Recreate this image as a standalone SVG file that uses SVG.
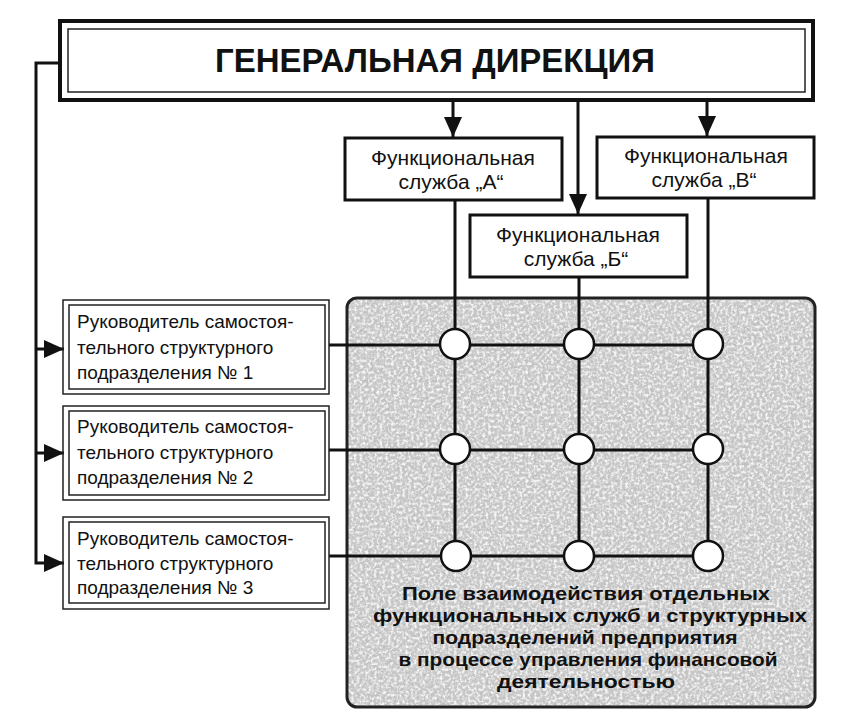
<svg xmlns="http://www.w3.org/2000/svg" width="844" height="716" viewBox="0 0 844 716">
<style>
  .ln { stroke:#111; stroke-width:3; fill:none; }
  .thin { stroke:#222; stroke-width:1.5; fill:none; }
  .box { fill:#fff; stroke:#111; stroke-width:3; }
  .svc { font-family:"Liberation Sans", Arial, sans-serif; font-size:21px; fill:#111; text-anchor:middle; }
  .lead { font-family:"Liberation Sans", Arial, sans-serif; font-size:19px; fill:#111; }
  .field { font-family:"Liberation Sans", Arial, sans-serif; font-size:19px; font-weight:bold; fill:#111; text-anchor:middle; }
  .node { fill:#fff; stroke:#111; stroke-width:2.5; }
</style>
<defs>
  <marker id="ah" viewBox="0 0 20 18" refX="20" refY="9" markerWidth="20" markerHeight="18" markerUnits="userSpaceOnUse" orient="auto">
    <path d="M0,0 L20,9 L0,18 Z" fill="#111"/>
  </marker>
  <filter id="tex" x="0" y="0" width="100%" height="100%">
    <feTurbulence type="fractalNoise" baseFrequency="0.35" numOctaves="2" seed="7" result="n"/>
    <feColorMatrix in="n" type="matrix" values="0 0 0 0 1  0 0 0 0 1  0 0 0 0 1  0 0 0 -3 1.75" result="w"/>
    <feComposite in="w" in2="SourceGraphic" operator="in"/>
  </filter>
  <filter id="tex2" x="0" y="0" width="100%" height="100%">
    <feTurbulence type="fractalNoise" baseFrequency="0.3" numOctaves="2" seed="19" result="n"/>
    <feColorMatrix in="n" type="matrix" values="0 0 0 0 0.45  0 0 0 0 0.45  0 0 0 0 0.45  0 0 0 -3 1.6" result="d"/>
    <feComposite in="d" in2="SourceGraphic" operator="in"/>
  </filter>
</defs>
<rect width="844" height="716" fill="#fff"/>

<g id="field">
  <rect x="347" y="298" width="468" height="409" rx="10" fill="#c8c8c8"/>
  <rect x="347" y="298" width="468" height="409" rx="10" fill="#000" filter="url(#tex2)" opacity="0.55"/>
  <rect x="347" y="298" width="468" height="409" rx="10" fill="#000" filter="url(#tex)" opacity="0.85"/>
  <rect x="347" y="298" width="468" height="409" rx="10" fill="none" stroke="#222" stroke-width="3"/>
  <text class="field" x="586" y="600" textLength="368" lengthAdjust="spacingAndGlyphs">Поле взаимодействия отдельных</text>
  <text class="field" x="590" y="622" textLength="434" lengthAdjust="spacingAndGlyphs">функциональных служб и структурных</text>
  <text class="field" x="585" y="644" textLength="305" lengthAdjust="spacingAndGlyphs">подразделений предприятия</text>
  <text class="field" x="588" y="666" textLength="379" lengthAdjust="spacingAndGlyphs">в процессе управления финансовой</text>
  <text class="field" x="586" y="688" textLength="178" lengthAdjust="spacingAndGlyphs">деятельностью</text>
</g>

<g id="connectors">
  <line class="ln" x1="453" y1="100" x2="453" y2="137" marker-end="url(#ah)"/>
  <line class="ln" x1="578" y1="100" x2="578" y2="214" marker-end="url(#ah)"/>
  <line class="ln" x1="707" y1="100" x2="707" y2="136" marker-end="url(#ah)"/>
  <polyline class="ln" points="60,63 36,63 36,563 64,563" marker-end="url(#ah)"/>
  <line class="ln" x1="36" y1="349" x2="64" y2="349" marker-end="url(#ah)"/>
  <line class="ln" x1="36" y1="453" x2="64" y2="453" marker-end="url(#ah)"/>
  <line class="ln" x1="455" y1="200" x2="455" y2="556"/>
  <line class="ln" x1="579" y1="277" x2="579" y2="556"/>
  <line class="ln" x1="708" y1="198" x2="708" y2="556"/>
  <line class="ln" x1="329" y1="345" x2="708" y2="345"/>
  <line class="ln" x1="329" y1="450" x2="708" y2="450"/>
  <line class="ln" x1="329" y1="556" x2="708" y2="556"/>
</g>

<g id="nodes-grid">
  <circle class="node" cx="455" cy="344" r="15"/>
  <circle class="node" cx="579" cy="344" r="15"/>
  <circle class="node" cx="708" cy="344" r="15"/>
  <circle class="node" cx="455" cy="449" r="15"/>
  <circle class="node" cx="579" cy="449" r="15"/>
  <circle class="node" cx="708" cy="449" r="15"/>
  <circle class="node" cx="456" cy="556" r="15"/>
  <circle class="node" cx="579" cy="556" r="15"/>
  <circle class="node" cx="708" cy="556" r="15"/>
</g>

<g id="general">
  <rect x="60" y="21" width="753" height="79" fill="#fff" stroke="#111" stroke-width="4"/>
  <rect x="68" y="29" width="737" height="63" fill="none" stroke="#222" stroke-width="1.5"/>
  <text x="435" y="72" font-family="'Liberation Sans', Arial, sans-serif" font-size="33" font-weight="bold" fill="#111" text-anchor="middle" textLength="440" lengthAdjust="spacingAndGlyphs">ГЕНЕРАЛЬНАЯ ДИРЕКЦИЯ</text>
</g>

<g id="service-a">
  <rect class="box" x="345" y="138" width="217" height="62"/>
  <text class="svc" x="453" y="165">Функциональная</text>
  <text class="svc" x="451" y="189">служба „А“</text>
</g>
<g id="service-b">
  <rect class="box" x="470" y="215" width="217" height="62"/>
  <text class="svc" x="578" y="242">Функциональная</text>
  <text class="svc" x="576" y="266">служба „Б“</text>
</g>
<g id="service-v">
  <rect class="box" x="597" y="137" width="217" height="61"/>
  <text class="svc" x="706" y="163">Функциональная</text>
  <text class="svc" x="704" y="187">служба „В“</text>
</g>

<g id="unit-1">
  <rect x="63" y="300" width="266" height="94" fill="#fff" class="thin"/>
  <rect x="69" y="305" width="256" height="84" class="thin"/>
  <text class="lead" x="77" y="328">Руководитель самостоя-</text>
  <text class="lead" x="77" y="354">тельного структурного</text>
  <text class="lead" x="77" y="379">подразделения № 1</text>
</g>
<g id="unit-2">
  <rect x="63" y="406" width="266" height="94" fill="#fff" class="thin"/>
  <rect x="69" y="411" width="256" height="84" class="thin"/>
  <text class="lead" x="77" y="433">Руководитель самостоя-</text>
  <text class="lead" x="77" y="459">тельного структурного</text>
  <text class="lead" x="77" y="484">подразделения № 2</text>
</g>
<g id="unit-3">
  <rect x="63" y="517" width="266" height="92" fill="#fff" class="thin"/>
  <rect x="69" y="522" width="256" height="81" class="thin"/>
  <text class="lead" x="77" y="545">Руководитель самостоя-</text>
  <text class="lead" x="77" y="570">тельного структурного</text>
  <text class="lead" x="77" y="594">подразделения № 3</text>
</g>
</svg>
